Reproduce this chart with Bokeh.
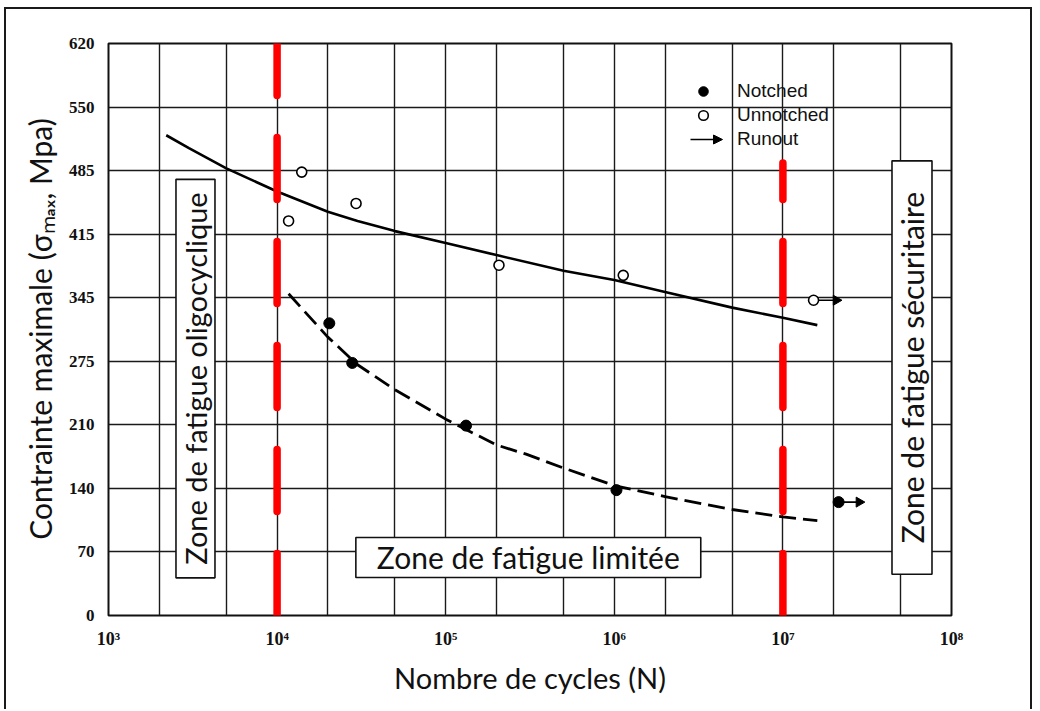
import math
from bokeh.plotting import figure
from bokeh.models import (Range1d, FixedTicker, Label, Legend, LegendItem, CustomJSTickFormatter,
                          Arrow, NormalHead)
from bokeh.embed import file_html
from bokeh.resources import INLINE

# ---------------- data ----------------
KSI_TO_MPA = 6.8948
y_ticks_ksi = [0, 10, 20, 30, 40, 50, 60, 70, 80, 90]
y_ticks = [k * KSI_TO_MPA for k in y_ticks_ksi]
y_tick_labels = ["0", "70", "140", "210", "275", "345", "415", "485", "550", "620"]

x_ticks = [1e3, 1e4, 1e5, 1e6, 1e7, 1e8]
x_tick_labels = ["10³", "10⁴", "10⁵", "10⁶", "10⁷", "10⁸"]
x_minor = [2e3, 5e3, 2e4, 5e4, 2e5, 5e5, 2e6, 5e6, 2e7, 5e7]

unnotched_N = [1.17e4, 1.40e4, 2.94e4, 2.07e5, 1.13e6]
unnotched_S = [428, 481, 447, 380, 369]
unnotched_runout_N = [1.52e7]
unnotched_runout_S = [342]
unnotched_runout_end = [2.07e7]

notched_N = [2.04e4, 2.79e4, 1.32e5, 1.03e6]
notched_S = [317, 274, 206, 136]
notched_runout_N = [2.14e7]
notched_runout_S = [123]
notched_runout_end = [2.83e7]

unnotched_fit_N = [2.2e3, 3e3, 5e3, 1e4, 2e4, 3e4, 5e4, 1e5, 2e5, 5e5, 1e6, 2e6, 5e6, 1e7, 1.6e7]
unnotched_fit_S = [521, 507, 485, 460, 438, 428, 417, 404, 391, 374, 364, 351, 334, 323, 315]

notched_fit_N = [1.17e4, 2e4, 3e4, 5e4, 1e5, 2e5, 3e5, 5e5, 1e6, 2e6, 5e6, 1e7, 1.6e7]
notched_fit_S = [349, 302, 272, 245, 213, 185, 175, 160, 141, 129, 115, 107, 103]

zone_bounds = [1e4, 1e7]
zone_line_top = [620.5, 491]

zone_labels = ["Zone de fatigue oligocyclique", "Zone de fatigue limitée", "Zone de fatigue sécuritaire"]
legend_labels = ["Notched", "Unnotched", "Runout"]

# ---------------- figure ----------------
p = figure(width=1028, height=702, x_axis_type="log",
           x_range=Range1d(1e3, 1e8), y_range=Range1d(0, 90 * KSI_TO_MPA),
           output_backend="svg", toolbar_location=None,
           min_border_left=102, min_border_right=83, min_border_top=34, min_border_bottom=96,
           background_fill_color="white", border_fill_color="white")
p.styles = {"border-left": "2px solid #1a1a1a", "border-top": "2px solid #1a1a1a",
            "border-right": "2px solid #1a1a1a", "margin-left": "4px", "margin-top": "7px"}

p.outline_line_color = "#111111"
p.outline_line_width = 2

fmt_code = """
let bi = 0, bd = Infinity;
for (let i = 0; i < tvals.length; i++) {
  const d = Math.abs(tvals[i] - tick);
  if (d < bd) { bd = d; bi = i; }
}
return tlabels[bi];
"""

p.xaxis.ticker = FixedTicker(ticks=x_ticks, minor_ticks=x_minor)
p.xaxis.formatter = CustomJSTickFormatter(args=dict(tvals=x_ticks, tlabels=x_tick_labels), code=fmt_code)
p.yaxis.ticker = FixedTicker(ticks=y_ticks)
p.yaxis.formatter = CustomJSTickFormatter(args=dict(tvals=y_ticks, tlabels=y_tick_labels), code=fmt_code)

for ax in (p.xaxis[0], p.yaxis[0]):
    ax.axis_line_color = None
    ax.major_tick_line_color = None
    ax.minor_tick_line_color = None
    ax.major_label_text_font = "Liberation Sans Narrow"
    ax.major_label_text_font_style = "bold"
    ax.major_label_text_color = "#111111"
    ax.axis_label_text_font = "Lato"
    ax.axis_label_text_font_style = "normal"
    ax.axis_label_text_color = "#111111"

p.xaxis.axis_label_text_font_size = "29px"
p.yaxis.axis_label_text_font_size = "30px"
p.xaxis.major_label_text_font_size = "18px"
p.yaxis.major_label_text_font_size = "17px"
p.xaxis.major_label_standoff = 7
p.yaxis.major_label_standoff = 8
p.xaxis.axis_label = "Nombre de cycles (N)"
p.yaxis.axis_label = "Contrainte maximale (σₘₐₓ, Mpa)"
p.xaxis.axis_label_standoff = 8
p.yaxis.axis_label_standoff = 8

p.xgrid.grid_line_color = "#1a1a1a"
p.xgrid.grid_line_width = 1.4
p.xgrid.minor_grid_line_color = "#1a1a1a"
p.xgrid.minor_grid_line_width = 1.4
p.ygrid.grid_line_color = "#1a1a1a"
p.ygrid.grid_line_width = 1.4

# fitted curves
p.line(unnotched_fit_N, unnotched_fit_S, line_color="black", line_width=2.6)
p.line(notched_fit_N, notched_fit_S, line_color="black", line_width=2.8, line_dash="17 7")

# zone boundaries (red dashed)
for xb, yt in zip(zone_bounds, zone_line_top):
    p.line([xb, xb], [0, yt], line_color="#ff0000", line_width=7.5, line_dash="62 42",
           line_cap="round")

# runout arrows (shaft + head)
run_x0 = unnotched_runout_N + notched_runout_N
run_y = unnotched_runout_S + notched_runout_S
run_x1 = unnotched_runout_end + notched_runout_end
p.segment(x0=run_x0, y0=run_y, x1=run_x1, y1=run_y, line_color="black", line_width=1.6)
p.scatter(x=run_x1, y=run_y, marker="triangle", angle=-math.pi / 2, size=10,
          fill_color="black", line_color="black")

# points
r_notched = p.scatter(notched_N, notched_S, marker="circle", size=11,
                      fill_color="black", line_color="black")
p.scatter(notched_runout_N, notched_runout_S, marker="circle", size=11,
          fill_color="black", line_color="black")
r_unnotched = p.scatter(unnotched_N, unnotched_S, marker="circle", size=10,
                        fill_color="white", line_color="black", line_width=1.6)
p.scatter(unnotched_runout_N, unnotched_runout_S, marker="circle", size=10,
          fill_color="white", line_color="black", line_width=1.6)

# legend (runout symbol drawn as an arrow beside its label)
r_runout_key = p.line(x=[], y=[], line_color="black", line_width=1.5)
legend = Legend(items=[LegendItem(label=legend_labels[0], renderers=[r_notched]),
                       LegendItem(label=legend_labels[1], renderers=[r_unnotched]),
                       LegendItem(label=legend_labels[2], renderers=[r_runout_key])],
                location=(583, 464), glyph_width=24, glyph_height=24, label_height=20,
                spacing=0, label_standoff=22, padding=0, margin=0,
                border_line_alpha=0, background_fill_alpha=0,
                label_text_font="Liberation Sans", label_text_font_size="19px",
                label_text_color="#111111")
p.add_layout(legend)
p.add_layout(Arrow(x_start=582, y_start=476, x_end=614, y_end=476,
                   start_units="screen", end_units="screen", line_width=1.5,
                   line_color="black",
                   end=NormalHead(size=9, fill_color="black", line_color="black")))

# zone labels
label_specs = [
    (zone_labels[0], 3.28e3, 257, math.pi / 2, (13, 2), "29px"),
    (zone_labels[1], 3.09e5, 63, 0, (21, 2), "30px"),
    (zone_labels[2], 5.83e7, 269, math.pi / 2, (31, 2), "30px"),
]
for txt, lx, ly, ang, pad, fs in label_specs:
    p.add_layout(Label(x=lx, y=ly, text=txt, angle=ang, text_align="center",
                       text_baseline="middle", text_font="Lato", text_font_size=fs,
                       text_color="#111111", background_fill_color="white",
                       border_line_color="#111111", border_line_width=1.6,
                       padding=pad))

open("out.html", "w").write(file_html(p, INLINE))
